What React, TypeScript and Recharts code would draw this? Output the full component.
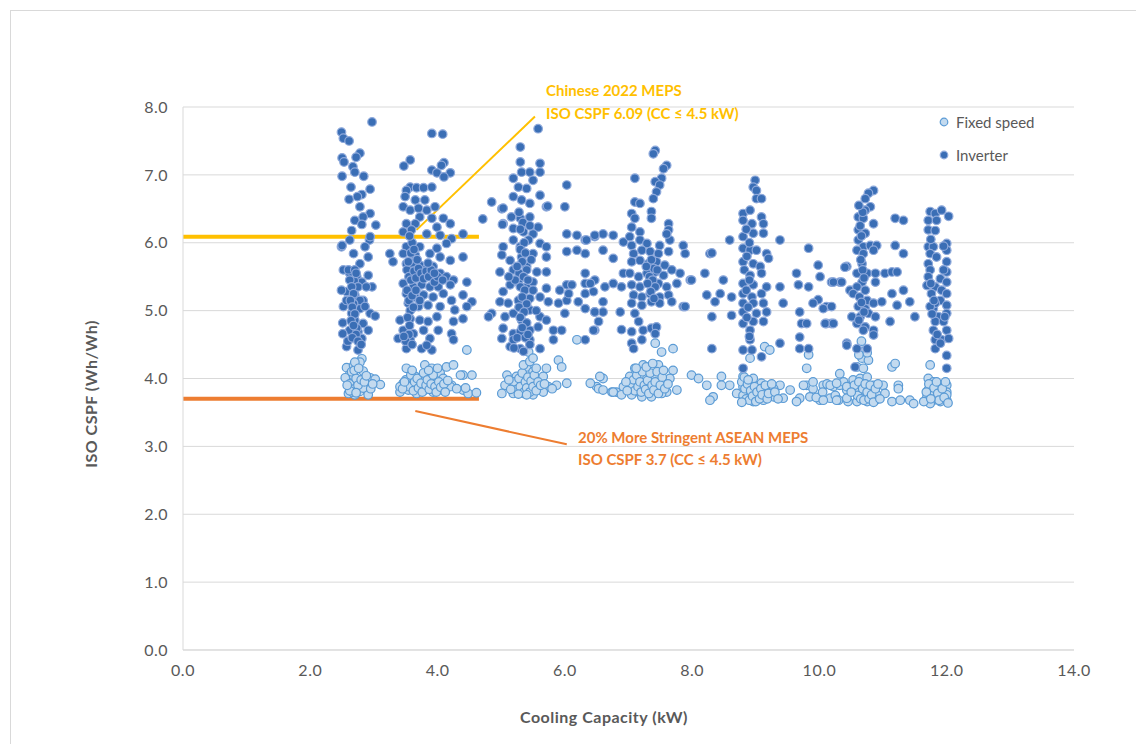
import { ScatterChart, Scatter, XAxis, YAxis, CartesianGrid, ReferenceLine } from "recharts";

type Pt = [number, number];

const FONT = "Lato, 'Open Sans', sans-serif";

const xTicks = [0, 2, 4, 6, 8, 10, 12, 14];
const yTicks = [0, 1, 2, 3, 4, 5, 6, 7, 8];

// MEPS thresholds (ISO CSPF), both for units with CC <= 4.5 kW
const chineseMeps = 6.09;
const aseanMeps = 3.7;
const mepsBarEnd = 4.65;

// [cooling capacity kW, ISO CSPF]
const fixedSpeed: Pt[] = [
  // ~2.5-3 kW
  [2.81, 4.29], [2.78, 4.24], [2.57, 4.16], [2.68, 4.19], [2.83, 4.11], [2.62, 4.06], [2.94, 4.01],
  [3.02, 3.99], [3.1, 3.91], [2.6, 3.96], [2.73, 3.94], [2.89, 3.89], [2.65, 3.86], [2.78, 3.81],
  [2.6, 3.78], [2.91, 3.84], [2.91, 3.76], [2.7, 3.76], [2.83, 3.86], [2.55, 4.01], [2.68, 4.04],
  [2.62, 3.92], [2.65, 4.1], [2.7, 3.85], [2.72, 4.0], [2.75, 3.9], [2.66, 3.8], [2.69, 4.12],
  [2.8, 3.98], [2.85, 3.95], [2.88, 4.04], [2.95, 3.85], [2.7, 4.24], [2.76, 4.15], [2.62, 3.82],
  [2.58, 3.9], [2.98, 3.92], [2.72, 3.79],
  // ~3.4-4.6 kW
  [3.51, 4.15], [3.65, 4.03], [3.8, 4.2], [3.91, 4.15], [4.04, 4.08], [4.14, 4.17], [4.25, 4.2],
  [3.46, 3.93], [3.59, 3.95], [3.72, 3.98], [3.85, 3.95], [3.99, 3.93], [4.09, 4.0], [4.22, 3.9],
  [3.41, 3.8], [3.54, 3.83], [3.67, 3.78], [3.8, 3.83], [3.93, 3.8], [4.07, 3.83], [4.2, 3.88],
  [4.4, 4.05], [4.54, 4.05], [4.46, 4.42], [4.4, 3.83], [4.48, 3.78], [4.61, 3.79], [3.41, 3.88],
  [3.72, 3.88], [3.91, 3.85], [3.5, 3.98], [3.55, 3.88], [3.58, 4.05], [3.62, 3.82], [3.64, 3.95],
  [3.68, 4.0], [3.7, 3.86], [3.74, 3.93], [3.76, 3.8], [3.78, 4.08], [3.82, 3.9], [3.84, 3.98],
  [3.87, 3.84], [3.9, 3.92], [3.93, 4.05], [3.96, 3.88], [3.98, 3.8], [4.02, 3.95], [4.05, 3.87],
  [4.1, 3.92], [4.12, 3.8], [4.16, 3.97], [4.3, 3.85], [3.45, 3.85], [3.48, 3.95], [3.6, 4.12],
  [3.86, 4.12], [4.0, 4.15], [4.44, 3.86], [4.36, 4.05],
  // ~5-7 kW
  [5.09, 4.05], [5.24, 4.03], [5.4, 4.17], [5.5, 4.1], [5.66, 4.03], [5.71, 4.15], [5.9, 4.27],
  [5.95, 4.17], [5.06, 3.9], [5.19, 3.88], [5.32, 3.93], [5.45, 3.9], [5.58, 3.85], [5.74, 3.88],
  [5.87, 3.9], [6.03, 3.93], [5.01, 3.78], [5.19, 3.78], [5.35, 3.78], [5.5, 3.76], [5.66, 3.8],
  [5.43, 4.39], [6.19, 4.57], [6.5, 3.88], [6.4, 3.93], [6.53, 3.85], [6.6, 4.0], [6.6, 3.83],
  [6.74, 3.8], [6.81, 3.8], [6.92, 3.88], [6.55, 4.03], [5.2, 3.95], [5.25, 3.84], [5.28, 4.0],
  [5.3, 3.88], [5.33, 4.08], [5.36, 3.8], [5.38, 3.95], [5.4, 3.86], [5.42, 4.02], [5.45, 3.8],
  [5.47, 3.96], [5.5, 3.88], [5.52, 4.05], [5.55, 3.82], [5.58, 3.95], [5.62, 3.9], [5.27, 3.77],
  [5.4, 3.76], [5.35, 4.2], [5.45, 4.25], [5.55, 4.15], [5.15, 3.84], [5.12, 3.98], [5.68, 3.92],
  [5.8, 3.85], [5.5, 4.3],
  // ~7-8.6 kW
  [7.42, 4.52], [7.52, 4.39], [7.7, 4.44], [7.1, 4.15], [7.23, 4.2], [7.47, 4.2], [7.7, 4.12],
  [7.02, 4.03], [7.16, 3.95], [7.29, 4.0], [7.42, 4.03], [7.55, 3.93], [7.65, 4.0], [7.02, 3.83],
  [7.16, 3.8], [7.31, 3.83], [7.44, 3.88], [7.6, 3.8], [6.76, 3.8], [6.89, 3.76], [7.05, 3.76],
  [7.21, 3.73], [7.36, 3.73], [7.52, 3.78], [7.76, 3.83], [7.99, 4.05], [8.1, 4.0], [8.23, 3.9],
  [8.46, 4.03], [8.59, 3.9], [8.33, 3.73], [8.28, 3.68], [8.46, 3.9], [7.05, 3.9], [7.08, 3.98],
  [7.1, 3.82], [7.13, 4.05], [7.15, 3.88], [7.18, 3.95], [7.2, 3.8], [7.22, 4.1], [7.25, 3.9],
  [7.27, 3.84], [7.3, 3.97], [7.32, 3.78], [7.34, 4.08], [7.37, 3.9], [7.4, 3.83], [7.42, 3.95],
  [7.45, 4.1], [7.47, 3.78], [7.5, 3.9], [7.53, 4.02], [7.57, 3.85], [7.62, 3.92], [6.96, 3.95],
  [6.98, 3.82], [7.12, 4.15], [7.28, 4.17], [7.38, 4.22], [7.55, 4.12],
  // ~8.7-9.5 kW
  [8.91, 4.3], [9.14, 4.47], [9.22, 4.42], [8.8, 4.03], [8.96, 4.0], [9.09, 3.93], [9.22, 3.88],
  [8.8, 3.88], [8.91, 3.78], [9.04, 3.73], [9.17, 3.83], [9.38, 3.9], [8.8, 3.68], [8.96, 3.66],
  [9.12, 3.68], [9.28, 3.73], [9.43, 3.71], [9.54, 3.83], [9.28, 3.85], [8.7, 3.78], [8.78, 3.95],
  [8.8, 3.75], [8.83, 3.85], [8.85, 3.7], [8.87, 3.92], [8.9, 3.68], [8.92, 3.82], [8.95, 3.74],
  [8.98, 3.88], [9.0, 3.66], [9.02, 3.8], [9.06, 3.7], [9.08, 3.85], [9.1, 3.76], [9.15, 3.9],
  [9.18, 3.7], [9.2, 3.78], [9.25, 3.92], [8.82, 4.02], [8.88, 3.98], [8.78, 3.65], [9.3, 3.8],
  [9.35, 3.7],
  // ~9.6-10.5 kW
  [9.83, 4.35], [9.8, 4.15], [9.8, 3.9], [9.9, 3.85], [10.06, 3.9], [10.22, 3.88], [9.69, 3.71],
  [9.85, 3.73], [10.01, 3.68], [10.17, 3.71], [10.32, 3.9], [10.43, 3.83], [10.53, 3.93], [9.64, 3.66],
  [9.75, 3.9], [9.9, 3.95], [9.95, 3.72], [10.05, 3.8], [10.12, 3.92], [10.25, 3.75], [10.3, 3.68],
  [10.38, 3.95], [10.45, 3.66],
  // ~10.5-11.5 kW
  [10.72, 4.32], [10.67, 4.3], [10.77, 4.27], [10.59, 4.17], [10.69, 4.15], [11.14, 4.17], [11.19, 4.22],
  [10.32, 4.07], [10.53, 3.98], [10.64, 4.0], [10.75, 4.02], [10.85, 3.9], [11.0, 3.9], [10.17, 3.9],
  [10.27, 3.93], [10.43, 3.88], [10.59, 3.83], [10.75, 3.78], [10.9, 3.76], [11.03, 3.78], [10.06, 3.68],
  [10.27, 3.68], [10.43, 3.71], [10.59, 3.66], [10.75, 3.66], [10.88, 3.68], [11.14, 3.66], [11.27, 3.68],
  [11.42, 3.68], [11.48, 3.63], [11.24, 3.9], [11.24, 3.85], [10.55, 3.9], [10.6, 3.75], [10.62, 3.95],
  [10.65, 3.7], [10.68, 3.85], [10.7, 3.68], [10.72, 3.92], [10.75, 3.8], [10.78, 3.7], [10.8, 3.9],
  [10.82, 3.76], [10.85, 3.65], [10.88, 3.85], [10.92, 3.92], [10.95, 3.7], [10.5, 3.8], [10.65, 4.45],
  [10.7, 4.4], [10.75, 4.38], [10.66, 4.55], [10.62, 4.35],
  // ~11.6-12 kW
  [11.74, 4.2], [11.71, 4.0], [11.79, 3.95], [11.9, 3.9], [12.0, 3.9], [11.74, 3.88], [11.82, 3.8],
  [11.92, 3.78], [12.0, 3.8], [11.69, 3.73], [11.79, 3.68], [11.9, 3.66], [12.0, 3.68], [11.74, 3.63],
  [11.87, 3.71], [11.64, 3.66], [12.0, 3.76], [11.71, 3.83], [11.72, 3.92], [11.77, 3.75], [11.8, 3.86],
  [11.84, 3.95], [11.86, 3.78], [11.88, 3.68], [11.93, 3.85], [11.96, 3.72], [11.98, 3.95], [12.02, 3.64],
  [11.68, 3.8], [11.75, 3.7],
];

const inverter: Pt[] = [
  // ~2.5-3 kW
  [2.97, 7.78], [2.49, 7.63], [2.52, 7.54], [2.61, 7.5], [2.5, 7.25], [2.53, 7.19], [2.78, 7.32],
  [2.72, 7.26], [2.67, 7.12], [2.7, 7.04], [2.84, 6.98], [2.5, 6.98], [2.64, 6.82], [2.94, 6.79],
  [2.81, 6.71], [2.61, 6.64], [2.74, 6.68], [2.78, 6.53], [2.94, 6.43], [2.83, 6.38], [2.7, 6.33],
  [3.03, 6.26], [2.81, 6.27], [2.65, 6.18], [2.62, 6.04], [2.49, 5.94], [2.93, 6.04], [2.68, 5.84],
  [2.91, 5.79], [2.78, 5.69], [2.52, 5.6], [2.62, 5.55], [2.73, 5.5], [2.91, 5.52], [2.81, 5.42],
  [2.97, 5.35], [2.57, 5.28], [2.7, 5.23], [2.52, 5.06], [2.83, 5.15], [2.78, 5.03], [2.94, 4.96],
  [3.02, 4.92], [2.65, 4.96], [2.51, 4.82], [2.7, 4.86], [2.83, 4.81], [2.62, 4.71], [2.75, 4.69],
  [2.51, 4.66], [2.91, 4.71], [2.57, 4.47], [2.75, 4.42], [2.81, 4.59], [2.69, 5.44], [2.75, 5.35],
  [2.78, 5.15], [2.68, 5.1], [2.73, 4.74], [2.59, 4.55], [2.88, 5.35], [2.49, 5.3], [2.86, 5.06],
  [2.57, 5.15], [2.5, 5.96], [2.86, 5.94], [2.94, 6.09], [2.62, 5.45], [2.65, 5.35], [2.68, 5.25],
  [2.63, 5.15], [2.66, 5.05], [2.7, 4.95], [2.64, 4.85], [2.68, 4.78], [2.72, 4.65], [2.66, 4.6],
  [2.6, 5.6], [2.7, 5.6], [2.75, 4.55], [2.8, 4.5], [2.72, 5.55],
  // ~3.2-4.7 kW
  [3.91, 7.61], [4.08, 7.6], [3.57, 7.22], [3.47, 7.13], [4.1, 7.18], [4.06, 7.14], [3.91, 7.07],
  [3.99, 7.03], [4.2, 7.03], [4.1, 6.97], [3.57, 6.82], [3.51, 6.77], [3.67, 6.81], [3.78, 6.81],
  [3.91, 6.82], [3.49, 6.68], [3.65, 6.63], [3.8, 6.63], [3.46, 6.53], [3.57, 6.48], [3.7, 6.51],
  [3.83, 6.48], [3.96, 6.53], [3.72, 6.38], [3.91, 6.36], [4.09, 6.36], [3.51, 6.28], [3.65, 6.28],
  [3.99, 6.23], [4.2, 6.28], [3.46, 6.16], [3.59, 6.19], [3.83, 6.13], [4.04, 6.11], [4.4, 6.13],
  [4.22, 6.06], [3.51, 5.94], [3.72, 5.94], [3.99, 5.92], [4.14, 5.99], [3.25, 5.84], [3.3, 5.72],
  [3.46, 5.84], [3.65, 5.82], [3.88, 5.84], [4.04, 5.79], [4.2, 5.74], [4.4, 5.79], [3.51, 5.69],
  [3.62, 5.65], [3.72, 5.67], [3.83, 5.62], [3.93, 5.65], [3.57, 5.55], [3.7, 5.5], [3.8, 5.52],
  [3.91, 5.5], [4.04, 5.55], [4.14, 5.5], [4.25, 5.45], [3.46, 5.4], [3.62, 5.35], [3.75, 5.38],
  [3.88, 5.35], [4.01, 5.35], [4.2, 5.38], [4.46, 5.42], [3.51, 5.25], [3.65, 5.2], [3.78, 5.23],
  [3.93, 5.2], [4.09, 5.25], [4.22, 5.15], [4.4, 5.23], [4.54, 5.13], [3.54, 5.11], [3.7, 5.06],
  [3.85, 5.08], [4.04, 5.06], [4.27, 5.01], [4.46, 5.06], [3.41, 4.86], [3.57, 4.88], [3.72, 4.86],
  [3.85, 4.84], [3.99, 4.91], [4.25, 4.84], [4.4, 4.88], [3.46, 4.71], [3.62, 4.66], [3.78, 4.71],
  [4.01, 4.71], [4.22, 4.66], [3.38, 4.59], [3.57, 4.57], [3.88, 4.59], [4.25, 4.57], [3.51, 4.44],
  [3.75, 4.44], [3.91, 4.42], [3.83, 4.49], [4.71, 6.35], [4.85, 6.6], [5.01, 6.5], [3.52, 5.6],
  [3.55, 5.5], [3.58, 5.45], [3.6, 5.7], [3.63, 5.58], [3.66, 5.48], [3.7, 5.62], [3.74, 5.55],
  [3.78, 5.47], [3.82, 5.58], [3.86, 5.5], [3.9, 5.6], [3.95, 5.42], [4.0, 5.5], [3.52, 5.3],
  [3.55, 5.15], [3.57, 5.0], [3.53, 4.9], [3.56, 4.78], [3.6, 5.22], [3.62, 5.05], [3.54, 5.72],
  [3.58, 5.85], [3.6, 6.0], [3.56, 6.1], [3.63, 5.9], [3.68, 5.75], [3.55, 4.65], [3.5, 4.55],
  [3.6, 4.5], [3.47, 4.62], [3.66, 5.3], [3.72, 5.15], [3.95, 5.55], [4.08, 5.45], [3.85, 5.7],
  // ~4.8-6 kW
  [5.58, 7.68], [5.3, 7.41], [5.3, 7.19], [5.61, 7.17], [5.19, 6.95], [5.32, 7.04], [5.45, 7.04],
  [5.61, 7.04], [5.27, 6.82], [5.4, 6.8], [5.5, 6.92], [5.19, 6.68], [5.32, 6.63], [5.45, 6.58],
  [5.71, 6.53], [5.03, 6.51], [5.61, 6.7], [5.16, 6.38], [5.3, 6.36], [5.45, 6.38], [5.58, 6.23],
  [5.19, 6.21], [5.35, 6.16], [5.5, 6.13], [5.03, 6.28], [5.43, 6.04], [5.61, 5.99], [5.71, 5.94],
  [5.03, 5.94], [5.19, 6.04], [5.3, 5.94], [5.01, 5.82], [5.14, 5.74], [5.32, 5.79], [5.5, 5.84],
  [5.71, 5.79], [4.98, 5.57], [5.19, 5.6], [5.4, 5.65], [5.56, 5.57], [5.71, 5.57], [5.14, 5.38],
  [5.27, 5.42], [5.4, 5.35], [5.5, 5.42], [5.71, 5.33], [5.03, 5.28], [4.85, 4.96], [4.8, 4.91],
  [4.98, 5.13], [5.11, 5.11], [5.27, 5.15], [5.45, 5.18], [5.61, 5.2], [5.74, 5.13], [5.06, 4.91],
  [5.19, 4.96], [5.32, 4.86], [5.45, 5.01], [5.61, 4.91], [5.71, 4.86], [5.03, 4.74], [5.19, 4.66],
  [5.3, 4.69], [5.45, 4.71], [5.58, 4.76], [5.01, 4.59], [5.14, 4.47], [5.3, 4.44], [5.45, 4.57],
  [5.61, 4.44], [5.19, 4.57], [5.82, 4.71], [5.95, 4.71], [5.82, 4.57], [6.03, 6.85], [6.0, 6.53],
  [5.02, 6.27], [5.73, 6.54], [5.28, 6.45], [5.34, 6.3], [5.3, 6.2], [5.36, 6.0], [5.3, 5.9],
  [5.38, 5.85], [5.33, 5.72], [5.4, 5.6], [5.28, 5.55], [5.35, 5.5], [5.42, 5.45], [5.3, 5.35],
  [5.37, 5.3], [5.33, 5.2], [5.4, 5.1], [5.28, 5.05], [5.36, 4.98], [5.3, 4.9], [5.4, 4.82],
  [5.33, 4.75], [5.25, 4.6], [5.38, 4.6], [5.45, 4.5], [5.22, 5.45], [5.47, 5.75], [5.5, 5.3],
  [5.55, 5.0], [5.12, 5.5], [5.25, 5.65], [5.45, 6.25], [5.42, 4.65], [5.2, 4.45], [5.35, 4.4],
  // ~6-7 kW
  [6.32, 6.04], [6.32, 5.84], [6.47, 6.09], [6.6, 6.13], [6.76, 6.11], [6.6, 5.89], [6.76, 5.77],
  [6.32, 5.55], [6.32, 5.4], [6.47, 5.45], [6.63, 5.35], [6.76, 5.4], [6.32, 5.25], [6.32, 5.03],
  [6.47, 4.98], [6.6, 4.98], [6.6, 5.13], [6.47, 4.71], [6.53, 4.84], [6.32, 4.57], [6.92, 6.01],
  [6.92, 5.55], [6.89, 5.35], [6.87, 4.98], [6.89, 4.72], [6.03, 6.13], [6.19, 6.11], [6.34, 6.04],
  [6.47, 6.11], [6.03, 5.87], [6.19, 5.89], [6.03, 5.38], [5.92, 5.3], [6.11, 5.38], [6.4, 5.4],
  [6.03, 5.15], [6.21, 5.13], [6.0, 4.96], [6.47, 4.98], [6.45, 4.71], [5.9, 5.11], [6.06, 5.25],
  [6.45, 5.28],
  // ~7-7.8 kW
  [7.42, 7.36], [7.39, 7.31], [7.6, 7.14], [7.55, 7.09], [7.1, 6.95], [7.52, 6.95], [7.42, 6.9],
  [7.49, 6.85], [7.44, 6.75], [7.39, 6.65], [7.1, 6.6], [7.18, 6.58], [7.05, 6.43], [7.36, 6.46],
  [7.1, 6.36], [7.36, 6.36], [7.63, 6.28], [7.63, 6.19], [7.05, 6.23], [7.18, 6.16], [7.02, 6.09],
  [7.18, 6.04], [7.05, 5.96], [7.29, 5.99], [7.49, 5.96], [7.65, 6.04], [7.6, 6.13], [7.08, 5.84],
  [7.21, 5.89], [7.34, 5.87], [7.47, 5.84], [7.63, 5.87], [7.05, 5.72], [7.18, 5.74], [7.31, 5.69],
  [7.44, 5.72], [7.57, 5.67], [7.02, 5.55], [7.16, 5.5], [7.29, 5.55], [7.42, 5.57], [7.55, 5.52],
  [7.68, 5.6], [7.81, 5.55], [7.05, 5.38], [7.18, 5.35], [7.34, 5.38], [7.47, 5.4], [7.6, 5.35],
  [7.76, 5.4], [7.08, 5.23], [7.21, 5.2], [7.34, 5.25], [7.49, 5.2], [7.63, 5.23], [7.05, 5.11],
  [7.21, 5.08], [7.36, 5.13], [7.49, 5.11], [7.68, 5.13], [7.86, 5.06], [7.97, 5.45], [7.1, 4.96],
  [7.16, 4.84], [7.05, 4.69], [7.23, 4.71], [7.36, 4.74], [7.44, 4.76], [7.05, 4.52], [7.08, 4.44],
  [7.21, 4.57], [7.42, 4.66], [7.36, 5.75], [7.4, 5.62], [7.33, 5.5], [7.38, 5.45], [7.42, 5.35],
  [7.35, 5.28], [7.4, 5.18], [7.45, 5.6], [7.3, 5.4], [7.28, 5.65],
  // ~7.8-8.7 kW
  [7.86, 5.96], [7.89, 5.84], [7.99, 5.45], [8.2, 5.55], [8.28, 5.84], [8.23, 5.23], [8.36, 5.13],
  [8.44, 5.25], [8.49, 5.45], [8.62, 5.2], [8.62, 4.93], [8.31, 4.91], [8.31, 4.44], [8.59, 6.04],
  [7.89, 5.06], [8.31, 5.85],
  // ~8.8-9.5 kW
  [8.99, 6.92], [8.96, 6.82], [9.01, 6.77], [9.01, 6.65], [9.09, 6.65], [8.8, 6.43], [8.91, 6.48],
  [8.8, 6.33], [8.94, 6.28], [9.09, 6.38], [9.12, 6.28], [8.8, 6.09], [8.96, 6.14], [9.12, 6.14],
  [9.38, 6.04], [8.8, 5.92], [8.91, 5.89], [9.01, 5.89], [9.17, 5.84], [9.2, 5.77], [8.8, 5.72],
  [8.96, 5.69], [9.07, 5.65], [8.82, 5.6], [8.91, 5.52], [9.09, 5.55], [8.8, 5.4], [8.96, 5.38],
  [9.17, 5.35], [8.8, 5.25], [8.94, 5.2], [9.09, 5.25], [9.38, 5.35], [8.8, 5.11], [8.96, 5.11],
  [9.12, 5.11], [9.43, 5.11], [8.8, 4.98], [9.01, 4.96], [9.17, 4.98], [8.8, 4.81], [8.96, 4.84],
  [9.12, 4.84], [8.91, 4.71], [8.91, 4.57], [8.8, 4.42], [8.94, 4.42], [9.09, 4.32], [9.38, 4.52],
  [8.8, 4.15], [8.85, 6.2], [8.9, 6.0], [8.86, 5.8], [8.9, 5.45], [8.85, 5.3], [8.88, 5.05],
  [8.86, 4.9], [8.9, 4.62],
  // ~9.6-10.5 kW
  [9.64, 5.55], [9.67, 5.38], [9.83, 5.35], [9.69, 4.98], [9.72, 4.81], [9.8, 4.81], [9.69, 4.61],
  [9.69, 4.44], [9.83, 4.44], [9.83, 5.92], [9.98, 5.67], [10.01, 5.5], [9.98, 5.16], [9.9, 5.11],
  [10.11, 5.06], [10.11, 4.81], [10.19, 4.81], [10.19, 5.42], [10.32, 5.42], [10.43, 5.65],
  [10.48, 5.3], [10.43, 4.52], [10.4, 5.64], [10.22, 5.42], [10.35, 5.42], [10.06, 5.03],
  [10.19, 5.06], [10.09, 4.81], [10.22, 4.81],
  // ~10.5-11.5 kW
  [10.85, 6.77], [10.77, 6.73], [10.72, 6.65], [10.8, 6.53], [10.72, 6.48], [10.61, 6.38], [10.69, 6.36],
  [10.85, 6.28], [10.61, 6.19], [10.72, 6.14], [10.61, 6.04], [10.69, 5.94], [10.8, 5.96], [10.9, 5.96],
  [10.59, 5.89], [10.69, 5.84], [10.85, 5.89], [10.67, 5.69], [10.59, 5.55], [10.75, 5.55], [10.88, 5.55],
  [10.67, 5.42], [10.59, 5.35], [10.72, 5.3], [10.88, 5.42], [10.53, 5.25], [10.75, 5.15], [10.61, 5.06],
  [10.72, 5.03], [10.85, 5.11], [10.98, 5.13], [10.51, 4.91], [10.64, 4.91], [10.77, 4.96], [10.88, 4.91],
  [10.59, 4.81], [10.72, 4.76], [10.85, 4.71], [11.11, 4.84], [10.85, 4.64], [10.69, 4.71], [10.43, 4.49],
  [10.59, 4.44], [10.75, 4.44], [10.56, 4.17], [11.19, 6.36], [11.32, 6.33], [11.19, 5.96], [11.32, 5.84],
  [11.03, 5.55], [11.14, 5.57], [11.22, 5.57], [11.14, 5.25], [11.32, 5.3], [11.22, 5.08], [11.42, 5.13],
  [11.5, 4.91], [10.65, 5.75], [10.68, 5.6], [10.7, 5.48], [10.63, 5.2], [10.66, 5.12], [10.7, 4.98],
  [10.62, 4.86], [10.66, 6.1], [10.64, 6.25], [10.68, 6.45], [10.62, 6.55],
  // ~11.7-12 kW
  [11.74, 6.46], [11.82, 6.43], [11.92, 6.48], [12.03, 6.39], [11.71, 6.33], [11.84, 6.33], [11.71, 6.19],
  [11.82, 6.18], [12.0, 5.99], [11.71, 5.94], [11.79, 5.94], [11.74, 5.84], [11.84, 5.79], [12.0, 5.89],
  [12.0, 5.72], [11.71, 5.69], [12.0, 5.57], [11.74, 5.6], [11.71, 5.5], [11.9, 5.47], [12.0, 5.42],
  [11.69, 5.37], [11.82, 5.35], [11.92, 5.3], [12.0, 5.25], [11.76, 5.25], [11.9, 5.15], [12.0, 5.08],
  [11.79, 5.03], [11.87, 4.91], [12.0, 4.96], [11.82, 4.84], [11.95, 4.84], [12.0, 4.71], [11.79, 4.71],
  [11.82, 4.57], [11.92, 4.57], [12.03, 4.59], [11.82, 4.44], [11.9, 4.52], [12.0, 4.34], [12.0, 4.15],
  [11.97, 4.91], [11.82, 5.11], [11.74, 5.06], [11.75, 5.4], [11.8, 5.15], [11.77, 4.95], [11.85, 4.65],
  [11.95, 5.6], [11.95, 5.95], [11.75, 6.05],
];

const toRows = (pts: Pt[]) => pts.map(([cc, cspf]) => ({ cc, cspf }));
const fixedRows = toRows(fixedSpeed);
const inverterRows = toRows(inverter);

const FixedDot = (p: any) => (
  <circle cx={p.cx} cy={p.cy} r={4.3} fill="#C3DAEF" stroke="#5B9BD5" strokeWidth={1.2} />
);
const InverterDot = (p: any) => (
  <circle cx={p.cx} cy={p.cy} r={4.3} fill="#3A6EB5" stroke="#8EA9DB" strokeWidth={1.2} />
);

const tickStyle = { fill: "#595959", fontSize: 16, fontFamily: FONT, letterSpacing: 0.5 };

export default function App() {
  return (
    <div style={{ position: "relative", width: 1136, height: 736, overflow: "hidden", fontFamily: FONT }}>
      <div
        style={{
          position: "absolute", left: 2, top: 2, width: 1300, height: 900,
          border: "1px solid #D9D9D9",
        }}
      />
      <div style={{ position: "absolute", left: 0, top: 0 }}>
        <ScatterChart width={1136} height={736} margin={{ top: 99, right: 70, bottom: 64, left: 125 }}>
          <CartesianGrid horizontal vertical={false} stroke="#D9D9D9" />
          <XAxis
            type="number"
            dataKey="cc"
            domain={[0, 14]}
            ticks={xTicks}
            tickFormatter={(v: number) => v.toFixed(1)}
            tick={tickStyle}
            tickLine={false}
            tickSize={0}
            tickMargin={15}
            height={30}
            stroke="#D9D9D9"
            allowDataOverflow
          />
          <YAxis
            type="number"
            dataKey="cspf"
            domain={[0, 8]}
            ticks={yTicks}
            tickFormatter={(v: number) => v.toFixed(1)}
            tick={tickStyle}
            tickLine={false}
            tickSize={0}
            tickMargin={15}
            width={50}
            stroke="#D9D9D9"
            allowDataOverflow
          />
          <Scatter name="Fixed speed" data={fixedRows} shape={FixedDot} isAnimationActive={false} />
          <Scatter name="Inverter" data={inverterRows} shape={InverterDot} isAnimationActive={false} />
          <ReferenceLine
            segment={[{ x: 0, y: chineseMeps }, { x: mepsBarEnd, y: chineseMeps }]}
            stroke="#FFC000"
            strokeWidth={4}
            ifOverflow="visible"
          />
          <ReferenceLine
            segment={[{ x: 0, y: aseanMeps }, { x: mepsBarEnd, y: aseanMeps }]}
            stroke="#ED7D31"
            strokeWidth={4}
            ifOverflow="visible"
          />
          <ReferenceLine
            segment={[{ x: 3.67, y: 6.19 }, { x: 5.53, y: 7.86 }]}
            stroke="#FFC000"
            strokeWidth={2}
            ifOverflow="visible"
          />
          <ReferenceLine
            segment={[{ x: 3.65, y: 3.52 }, { x: 6.03, y: 3.03 }]}
            stroke="#ED7D31"
            strokeWidth={2}
            ifOverflow="visible"
          />
        </ScatterChart>
      </div>

      {/* callouts */}
      <div
        style={{
          position: "absolute", left: 538, top: 71, color: "#FFC000", fontWeight: 700,
          fontSize: 15, lineHeight: "23px", whiteSpace: "nowrap",
        }}
      >
        <div>Chinese 2022 MEPS</div>
        <div>ISO CSPF 6.09 (CC ≤ 4.5 kW)</div>
      </div>
      <div
        style={{
          position: "absolute", left: 570, top: 418, color: "#ED7D31", fontWeight: 700,
          fontSize: 15, lineHeight: "22px", whiteSpace: "nowrap",
        }}
      >
        <div>20% More Stringent ASEAN MEPS</div>
        <div>ISO CSPF 3.7 (CC ≤ 4.5 kW)</div>
      </div>

      {/* legend */}
      <div style={{ position: "absolute", left: 930, top: 97, color: "#595959", fontSize: 15 }}>
        {[
          { label: "Fixed speed", fill: "#C3DAEF", stroke: "#5B9BD5" },
          { label: "Inverter", fill: "#3A6EB5", stroke: "#8EA9DB" },
        ].map((item) => (
          <div key={item.label} style={{ display: "flex", alignItems: "center", height: 33 }}>
            <svg width={10} height={10} style={{ marginLeft: 1, marginRight: 7 }}>
              <circle cx={5} cy={5} r={3.8} fill={item.fill} stroke={item.stroke} strokeWidth={1.2} />
            </svg>
            <span>{item.label}</span>
          </div>
        ))}
      </div>

      {/* axis titles */}
      <div
        style={{
          position: "absolute", left: 596, top: 708, transform: "translate(-50%, -50%)",
          color: "#595959", fontWeight: 700, fontSize: 16, letterSpacing: 0.5, whiteSpace: "nowrap",
        }}
      >
        Cooling Capacity (kW)
      </div>
      <div
        style={{
          position: "absolute", left: 82, top: 386, transform: "translate(-50%, -50%) rotate(-90deg)",
          color: "#595959", fontWeight: 700, fontSize: 16, letterSpacing: 0.5, whiteSpace: "nowrap",
        }}
      >
        ISO CSPF (Wh/Wh)
      </div>
    </div>
  );
}
